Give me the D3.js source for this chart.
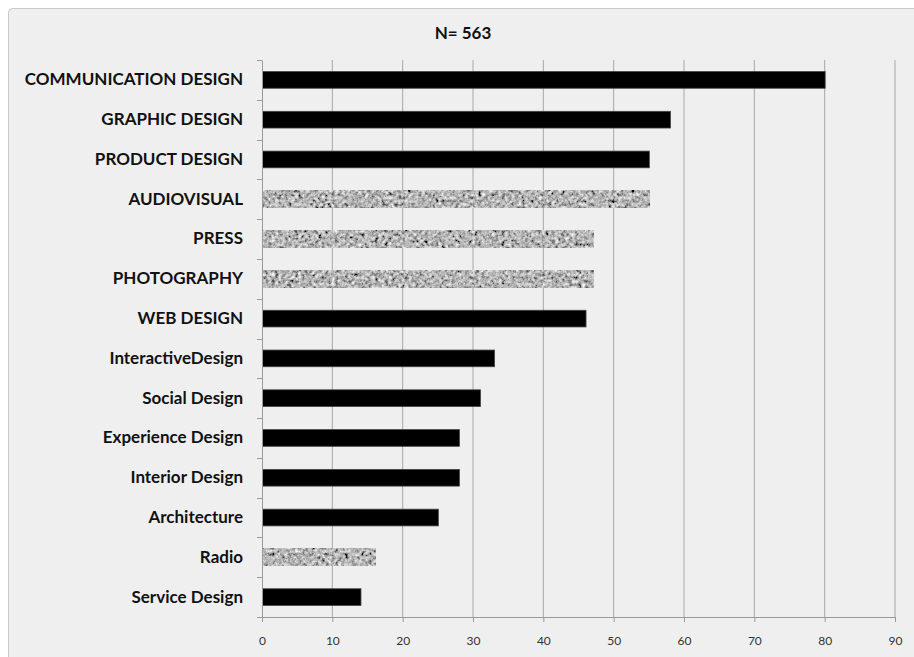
<!DOCTYPE html>
<html>
<head>
<meta charset="utf-8">
<script src="https://cdn.jsdelivr.net/npm/d3@7"></script>
<style>
  body { margin: 0; background: #fff; }
  svg { display: block; }
  .tick text { font-family: Lato, "Open Sans", sans-serif; }
</style>
</head>
<body>
<div id="chart"></div>
<script>
const categories = [
  "COMMUNICATION DESIGN", "GRAPHIC DESIGN", "PRODUCT DESIGN", "AUDIOVISUAL",
  "PRESS", "PHOTOGRAPHY", "WEB DESIGN", "InteractiveDesign", "Social Design",
  "Experience Design", "Interior Design", "Architecture", "Radio", "Service Design"
];
const values = [80, 58, 55, 55, 47, 47, 46, 33, 31, 28, 28, 25, 16, 14];
// textured (grey noise) bars vs solid black bars
const textured = ["AUDIOVISUAL", "PRESS", "PHOTOGRAPHY", "Radio"];
const xTicks = [0, 10, 20, 30, 40, 50, 60, 70, 80, 90];
const title = "N= 563";

const width = 914, height = 657;
const margin = { top: 60, right: 19, bottom: 40, left: 262 };
const innerW = width - margin.left - margin.right;
const innerH = height - margin.top - margin.bottom;

const svg = d3.select("#chart")
  .append("svg")
    .attr("width", width)
    .attr("height", height);

// noise texture for the grey bars
const defs = svg.append("defs");
const filt = defs.append("filter")
    .attr("id", "noise")
    .attr("x", 0).attr("y", 0).attr("width", "100%").attr("height", "100%");
filt.append("feTurbulence")
    .attr("type", "fractalNoise")
    .attr("baseFrequency", 0.3)
    .attr("numOctaves", 3)
    .attr("seed", 7)
    .attr("result", "t");
filt.append("feColorMatrix")
    .attr("type", "matrix")
    .attr("values", "0.33 0.33 0.33 0 0  0.33 0.33 0.33 0 0  0.33 0.33 0.33 0 0  0 0 0 0 1")
    .attr("result", "g");
const ct = filt.append("feComponentTransfer").attr("in", "g");
["R", "G", "B"].forEach(c => {
  ct.append(`feFunc${c}`).attr("type", "linear").attr("slope", 2.3).attr("intercept", -0.68);
});

// frame
svg.append("rect")
    .attr("x", 8.5).attr("y", 8.5)
    .attr("width", width + 20).attr("height", height + 20)
    .attr("rx", 4)
    .attr("fill", "#efefef")
    .attr("stroke", "#c8c8c8");

svg.append("text")
    .attr("x", 463)
    .attr("y", 39)
    .attr("text-anchor", "middle")
    .style("font-family", "Lato, 'Open Sans', sans-serif")
    .style("font-weight", "bold")
    .style("font-size", "17px")
    .attr("fill", "#111")
    .text(title);

const g = svg.append("g")
    .attr("transform", `translate(${margin.left},${margin.top})`);

const x = d3.scaleLinear()
    .domain([0, 90])
    .range([0, innerW]);

const y = d3.scaleBand()
    .domain(categories)
    .range([0, innerH])
    .paddingInner(0.58)
    .paddingOuter(0.29);

// vertical gridlines
g.selectAll("line.grid")
  .data(xTicks.filter(d => d > 0))
  .join("line")
    .attr("class", "grid")
    .attr("x1", d => x(d)).attr("x2", d => x(d))
    .attr("y1", 0).attr("y2", innerH)
    .attr("stroke", "#a8a8a8")
    .attr("stroke-width", 1);

// bars
g.selectAll("rect.bar")
  .data(categories.map((c, i) => ({ cat: c, value: values[i] })))
  .join("rect")
    .attr("class", "bar")
    .attr("x", 0.5)
    .attr("y", d => y(d.cat))
    .attr("width", d => x(d.value))
    .attr("height", y.bandwidth())
    .attr("fill", d => textured.includes(d.cat) ? "#999" : "#000")
    .attr("filter", d => textured.includes(d.cat) ? "url(#noise)" : null)
    .attr("stroke", d => textured.includes(d.cat) ? "#aaa" : "#444")
    .attr("stroke-width", 0.8);

// x axis
const xAxis = g.append("g")
    .attr("transform", `translate(0,${innerH})`)
    .call(d3.axisBottom(x).tickValues(xTicks).tickSize(5).tickPadding(14));
xAxis.select(".domain").attr("stroke", "#999");
xAxis.selectAll(".tick line").attr("stroke", "#999");
xAxis.selectAll(".tick text")
    .attr("fill", "#333")
    .style("font-size", "12px");

// y axis with ticks at band boundaries
const yAxis = g.append("g")
    .call(d3.axisLeft(y).tickSize(0).tickPadding(19));
yAxis.select(".domain").attr("stroke", "#999");
yAxis.selectAll(".tick text")
    .attr("fill", "#111")
    .style("font-size", "17px")
    .style("font-weight", "bold");

g.selectAll("line.ytick")
  .data(d3.range(categories.length + 1))
  .join("line")
    .attr("class", "ytick")
    .attr("x1", -5).attr("x2", 0)
    .attr("y1", i => Math.round(i * innerH / categories.length) + 0.5)
    .attr("y2", i => Math.round(i * innerH / categories.length) + 0.5)
    .attr("stroke", "#999");
</script>
</body>
</html>
